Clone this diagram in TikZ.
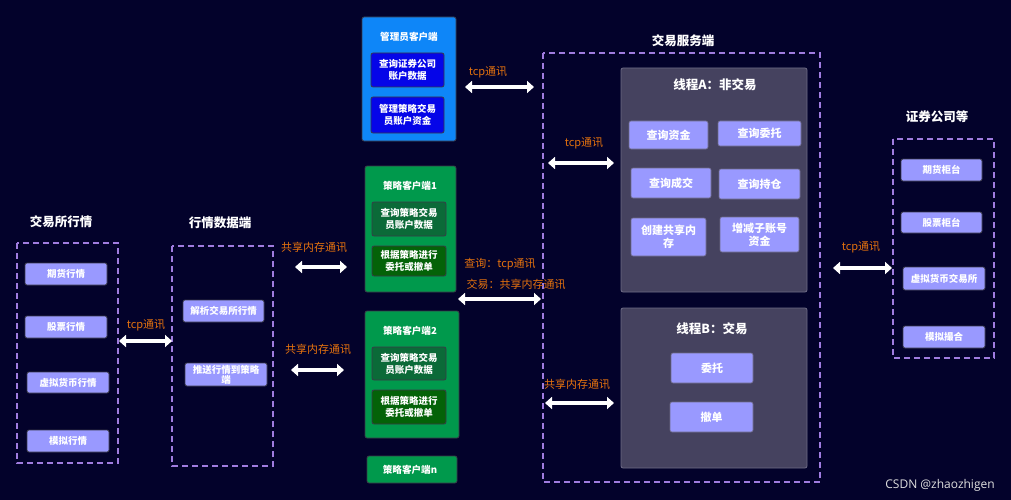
\documentclass[tikz,border=0pt]{standalone}
\usepackage{fontspec}
\setmainfont{Noto Sans CJK SC}
\newfontfamily\wmfont{Open Sans}
\usetikzlibrary{arrows.meta}
\definecolor{bg}{HTML}{03022B}
\definecolor{dash}{HTML}{A07CE0}
\definecolor{lp}{HTML}{9999FF}
\definecolor{thr}{HTML}{45425F}
\definecolor{thrb}{HTML}{6E6B86}
\definecolor{adm}{HTML}{0E86F8}
\definecolor{admin}{HTML}{0505E8}
\definecolor{grn}{HTML}{00994C}
\definecolor{grnA}{HTML}{0B6A38}
\definecolor{grnB}{HTML}{046208}
\definecolor{org}{HTML}{E5720E}
\definecolor{edge}{HTML}{3A3A48}
\tikzset{
  x=1pt,y=-1pt,
  every node/.style={inner sep=0pt,outer sep=0pt},
  ttl/.style={text=white,font=\bfseries\fontsize{12.5}{14}\selectfont},
  lbl/.style={text=org,font=\fontsize{11}{13}\selectfont},
  dbox/.style={draw=dash,dashed,line width=1.2pt,dash pattern=on 6pt off 4pt},
  pbtn/.style={fill=lp,draw=edge,line width=0.8pt,rounded corners=2pt,text=white,align=center,
    font=\bfseries\fontsize{9.5}{11}\selectfont},
  tbtn/.style={fill=lp,draw=thrb,line width=0.6pt,rounded corners=2pt,text=white,align=center,
    font=\bfseries\fontsize{11}{13}\selectfont},
  panel/.style={draw=edge,line width=0.8pt,rounded corners=2pt},
  ibtn/.style={draw=edge,line width=0.8pt,rounded corners=2pt,text=white,align=center,
    font=\bfseries\fontsize{9.5}{12}\selectfont},
  ptitle/.style={text=white,font=\bfseries\fontsize{9.6}{11}\selectfont},
  darr/.style={draw=white,line width=3.6pt,{Triangle[width=12pt,length=7pt]}-{Triangle[width=12pt,length=7pt]}},
}
\begin{document}
\begin{tikzpicture}
\fill[bg] (0,0) rectangle (1011,500);
\useasboundingbox (0,0) rectangle (1011,500);

% ---- exchange quotes
\node[ttl] (t1) at (61,222) {交易所行情};
\draw[dbox] (17,243) rectangle (118,463);
\node[pbtn,minimum width=82pt,minimum height=22pt] (ex1) at (66,274) {期货行情};
\node[pbtn,minimum width=82pt,minimum height=22pt] (ex2) at (66,327) {股票行情};
\node[pbtn,minimum width=82pt,minimum height=21pt] (ex3) at (68,382.5) {虚拟货币行情};
\node[pbtn,minimum width=82pt,minimum height=22pt] (ex4) at (68,441) {模拟行情};

% ---- market data
\node[ttl] (t2) at (220,223) {行情数据端};
\draw[dbox] (172,246) rectangle (273,466);
\node[pbtn,minimum width=81pt,minimum height=22pt] (d1) at (223.5,311) {解析交易所行情};
\node[pbtn,minimum width=82pt,minimum height=23pt,font=\bfseries\fontsize{9.5}{10}\selectfont] (d2) at (226,374.5) {推送行情到策略\\端};

% ---- admin client
\fill[adm,draw=edge,line width=0.8pt,rounded corners=2pt] (362,17) rectangle (456,141);
\node[ptitle] (admt) at (409,37) {管理员客户端};
\node[ibtn,fill=admin,minimum width=73pt,minimum height=34pt] (a1) at (407.5,70) {查询证券公司\\账户数据};
\node[ibtn,fill=admin,minimum width=73pt,minimum height=36pt] (a2) at (407.5,115) {管理策略交易\\员账户资金};

% ---- strategy clients
\fill[grn,draw=edge,line width=0.8pt,rounded corners=2pt] (365,166) rectangle (456,292);
\node[ptitle] (s1t) at (410,186) {策略客户端1};
\node[ibtn,fill=grnA,minimum width=74pt,minimum height=34pt] (s1a) at (409,219) {查询策略交易\\员账户数据};
\node[ibtn,fill=grnB,minimum width=74pt,minimum height=30pt] (s1b) at (409,261) {根据策略进行\\委托或撤单};

\fill[grn,draw=edge,line width=0.8pt,rounded corners=2pt] (365,311) rectangle (459,438);
\node[ptitle] (s2t) at (410,331) {策略客户端2};
\node[ibtn,fill=grnA,minimum width=74pt,minimum height=33pt] (s2a) at (409,363.5) {查询策略交易\\员账户数据};
\node[ibtn,fill=grnB,minimum width=74pt,minimum height=34pt] (s2b) at (409,407) {根据策略进行\\委托或撤单};

\fill[grn,draw=edge,line width=0.8pt,rounded corners=2pt] (367,456) rectangle (457,483);
\node[ptitle] (snt) at (410,470) {策略客户端n};

% ---- trading server
\node[ttl] (t3) at (683,41) {交易服务端};
\draw[dbox] (543,53) rectangle (820,482);
\fill[thr,draw=thrb,line width=0.8pt,rounded corners=2pt] (621,68) rectangle (807,292);
\node[ttl] (tha) at (715,85) {线程A：非交易};
\node[tbtn,minimum width=79pt,minimum height=28pt] (q1) at (668.5,135) {查询资金};
\node[tbtn,minimum width=83pt,minimum height=25pt] (q2) at (759.5,133.5) {查询委托};
\node[tbtn,minimum width=80pt,minimum height=30pt] (q3) at (671,183) {查询成交};
\node[tbtn,minimum width=81pt,minimum height=30pt] (q4) at (759.5,184) {查询持仓};
\node[tbtn,minimum width=75pt,minimum height=38pt] (q5) at (668.5,237) {创建共享内\\存};
\node[tbtn,minimum width=79pt,minimum height=35pt] (q6) at (759.5,234.5) {增减子账号\\资金};

\fill[thr,draw=thrb,line width=0.8pt,rounded corners=2pt] (621,308) rectangle (807,468);
\node[ttl] (thb) at (712,329) {线程B：交易};
\node[tbtn,minimum width=82pt,minimum height=30pt] (b1) at (712,368) {委托};
\node[tbtn,minimum width=83pt,minimum height=30pt] (b2) at (711.5,417) {撤单};

% ---- brokers
\node[ttl] (t4) at (937,117) {证券公司等};
\draw[dbox] (893,139) rectangle (994,358);
\node[pbtn,minimum width=81pt,minimum height=22pt] (r1) at (941.5,170) {期货柜台};
\node[pbtn,minimum width=81pt,minimum height=21pt] (r2) at (941.5,222.5) {股票柜台};
\node[pbtn,minimum width=82pt,minimum height=23pt] (r3) at (944,278.5) {虚拟货币交易所};
\node[pbtn,minimum width=82pt,minimum height=22pt] (r4) at (944,337) {模拟撮合};

% ---- arrows
\coordinate (c1a) at (119,341); \coordinate (c1b) at (172,341);
\coordinate (c2a) at (465,87);  \coordinate (c2b) at (534,87);
\coordinate (c3a) at (295,267); \coordinate (c3b) at (347,267);
\coordinate (c4a) at (291,370); \coordinate (c4b) at (344,370);
\coordinate (c5a) at (458,299); \coordinate (c5b) at (541,299);
\coordinate (c6a) at (548,163); \coordinate (c6b) at (614,163);
\coordinate (c7a) at (545,403); \coordinate (c7b) at (614,403);
\coordinate (c8a) at (833,268); \coordinate (c8b) at (892,268);
\draw[darr] (c1a) -- (c1b);
\draw[darr] (c2a) -- (c2b);
\draw[darr] (c3a) -- (c3b);
\draw[darr] (c4a) -- (c4b);
\draw[darr] (c5a) -- (c5b);
\draw[darr] (c6a) -- (c6b);
\draw[darr] (c7a) -- (c7b);
\draw[darr] (c8a) -- (c8b);
\node[lbl] (l1) at (146,325) {tcp通讯};
\node[lbl] (l2) at (488,72) {tcp通讯};
\node[lbl] (l3) at (314,247) {共享内存通讯};
\node[lbl] (l4) at (318,349) {共享内存通讯};
\node[lbl] (l5a) at (500,264) {查询：tcp通讯};
\node[lbl] (l5b) at (516,284) {交易：共享内存通讯};
\node[lbl] (l6) at (584,143) {tcp通讯};
\node[lbl] (l7) at (577,384) {共享内存通讯};
\node[lbl] (l8) at (861,247) {tcp通讯};

\node[text=white!75!gray,font=\wmfont\fontsize{12}{14}\selectfont] (wm) at (940,485) {CSDN @zhaozhigen};
\end{tikzpicture}
\end{document}
